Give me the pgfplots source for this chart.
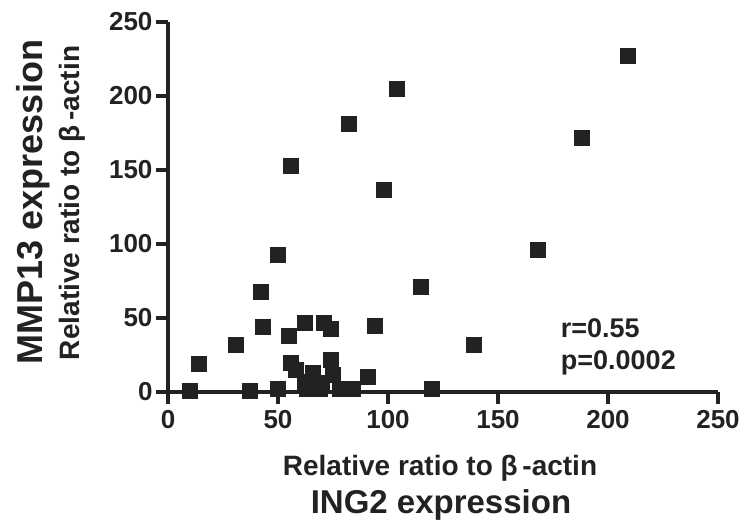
\documentclass[border=0pt]{standalone}
\usepackage{fontspec}
\setmainfont{Liberation Sans}
\usepackage{pgfplots}
\pgfplotsset{compat=1.18}
\begin{document}
\begin{tikzpicture}[x=1pt,y=1pt]
\definecolor{ink}{HTML}{222222}
\begin{axis}[
  at={(0,0)}, anchor=south west,
  width=550pt, height=370pt, scale only axis,
  xmin=0, xmax=250, ymin=0, ymax=250,
  axis x line=bottom, axis y line=left,
  axis line style={line width=4.5pt, -, ink},
  tick style={line width=4.5pt, ink},
  major tick length=12pt, tick align=outside,
  xtick={0,50,...,250}, ytick={0,50,...,250},
  /pgf/number format/assume math mode=true,
  tick label style={font=\fontsize{26}{26}\selectfont\bfseries, text=ink},
  xticklabel style={yshift=-3pt},
  clip=false,
]
\addplot [only marks, mark=square*, mark size=7.5pt, mark options={fill=ink, draw=ink}]
coordinates {
(10,1) (14,19) (31,32) (37,1) (42,68) (43,44) (50,93) (50,2) (55,38)
(56,153) (56,20) (58,15) (62,47) (62,7) (63,2) (66,13) (69,2) (70,6)
(71,47) (74,43) (74,22) (75,12) (78,2) (82,181) (84,2) (91,10) (94,45)
(98,137) (104,205) (115,71) (120,2) (139,32) (168,96) (188,172) (209,227)
};
\node[anchor=west, font=\fontsize{27}{27}\selectfont\bfseries, text=ink] at (axis cs:177,43) {r=0.55};
\node[anchor=west, font=\fontsize{27}{27}\selectfont\bfseries, text=ink] at (axis cs:177,20) {p=0.0002};
\end{axis}
\node[font=\fontsize{28}{28}\selectfont\bfseries, text=ink] at (272,-76) {Relative ratio to β\,-actin};
\node[font=\fontsize{33}{33}\selectfont\bfseries, text=ink] at (273,-113) {ING2 expression};
\node[rotate=90, font=\fontsize{36}{36}\selectfont\bfseries, text=ink] at (-135,190) {MMP13 expression};
\node[rotate=90, font=\fontsize{28}{28}\selectfont\bfseries, text=ink] at (-96,189) {Relative ratio to β\,-actin};
\pgfresetboundingbox
\useasboundingbox (-168,-135) rectangle (577,392);
\end{tikzpicture}
\end{document}
